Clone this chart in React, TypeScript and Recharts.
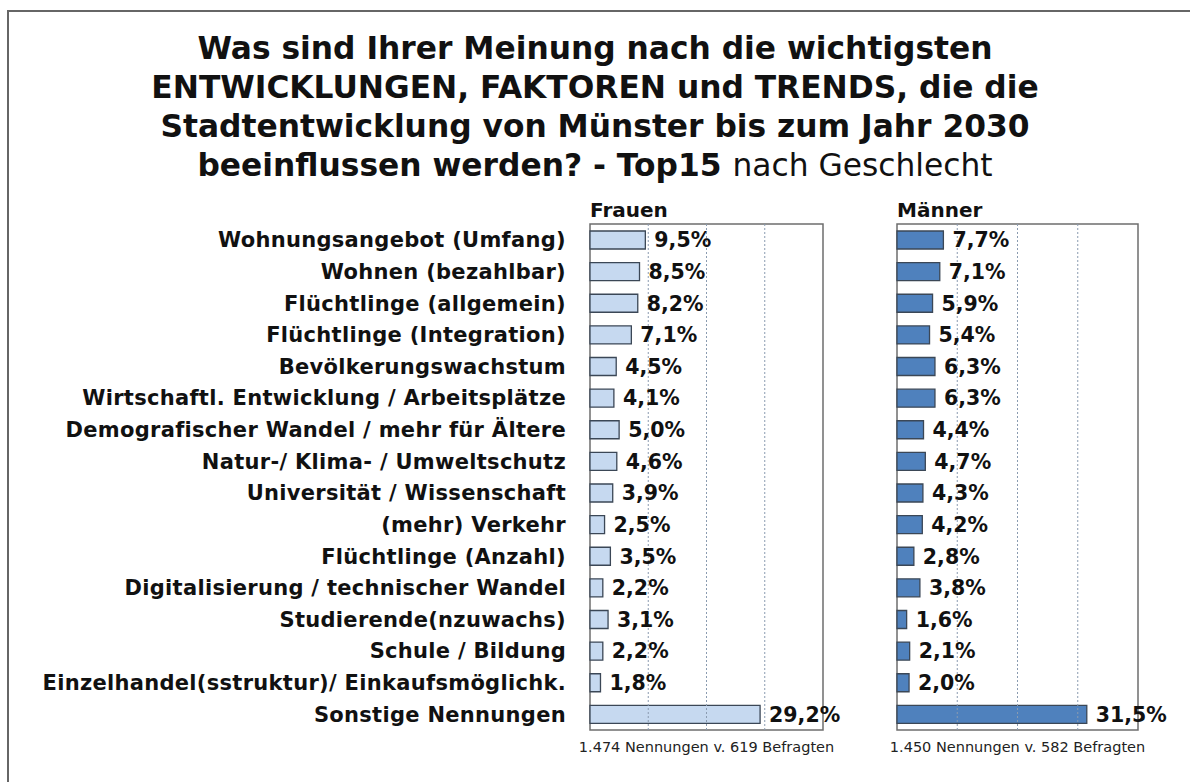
import React from "react";
import {
  BarChart,
  Bar,
  XAxis,
  YAxis,
  ReferenceArea,
  ReferenceLine,
  LabelList,
} from "recharts";

// Kategorien (Top15 + Sonstige)
const categories = [
  "Wohnungsangebot (Umfang)",
  "Wohnen (bezahlbar)",
  "Flüchtlinge (allgemein)",
  "Flüchtlinge (Integration)",
  "Bevölkerungswachstum",
  "Wirtschaftl. Entwicklung / Arbeitsplätze",
  "Demografischer Wandel / mehr für Ältere",
  "Natur-/ Klima- / Umweltschutz",
  "Universität / Wissenschaft",
  "(mehr) Verkehr",
  "Flüchtlinge (Anzahl)",
  "Digitalisierung / technischer Wandel",
  "Studierende(nzuwachs)",
  "Schule / Bildung",
  "Einzelhandel(sstruktur)/ Einkaufsmöglichk.",
  "Sonstige Nennungen",
];

// Anteile in %
const frauen = [9.5, 8.5, 8.2, 7.1, 4.5, 4.1, 5.0, 4.6, 3.9, 2.5, 3.5, 2.2, 3.1, 2.2, 1.8, 29.2];
const maenner = [7.7, 7.1, 5.9, 5.4, 6.3, 6.3, 4.4, 4.7, 4.3, 4.2, 2.8, 3.8, 1.6, 2.1, 2.0, 31.5];

const xTicks = [0, 10, 20, 30, 40];
const gridLines = [10, 20, 30];

const FONT = "'DejaVu Sans', Verdana, sans-serif";

const frauenData = categories.map((cat, i) => ({ cat, wert: frauen[i] }));
const maennerData = categories.map((cat, i) => ({ cat, wert: maenner[i] }));

const formatPct = (v: number) => v.toFixed(1).replace(".", ",") + "%";

const labelStyle = {
  fontSize: 20.5,
  fontWeight: "bold",
  fill: "#111",
  fontFamily: FONT,
};

function Panel({
  data,
  fill,
  width,
  marginLeft,
  marginRight,
  showCategories,
}: {
  data: { cat: string; wert: number }[];
  fill: string;
  width: number;
  marginLeft: number;
  marginRight: number;
  showCategories: boolean;
}) {
  return (
    <BarChart
      width={width}
      height={782}
      data={data}
      layout="vertical"
      margin={{ top: 224, bottom: 52, left: marginLeft, right: marginRight }}
      barSize={18}
    >
      <XAxis
        type="number"
        domain={[0, 40]}
        ticks={xTicks}
        tick={false}
        axisLine={false}
        tickLine={false}
        height={0}
      />
      <YAxis
        type="category"
        dataKey="cat"
        hide={!showCategories}
        width={560}
        axisLine={false}
        tickLine={false}
        tickSize={0}
        tickMargin={24}
        interval={0}
        tick={{
          fontSize: 21,
          fontWeight: "bold",
          fill: "#111",
          fontFamily: FONT,
          letterSpacing: 0.3,
        }}
      />
      {gridLines.map((x) => (
        <ReferenceLine
          key={x}
          x={x}
          stroke="#8a9bb0"
          strokeDasharray="2 2"
          strokeWidth={1}
        />
      ))}
      <ReferenceArea
        x1={0}
        x2={40}
        fill="none"
        stroke="#6d6d6d"
        strokeWidth={1.5}
        ifOverflow="visible"
      />
      <Bar
        dataKey="wert"
        fill={fill}
        stroke="#3b4756"
        strokeWidth={1.3}
        isAnimationActive={false}
      >
        <LabelList
          dataKey="wert"
          position="right"
          offset={9}
          formatter={(v: number) => formatPct(v)}
          style={labelStyle}
        />
      </Bar>
    </BarChart>
  );
}

const footStyle: React.CSSProperties = {
  position: "absolute",
  top: 739,
  fontSize: 14.5,
  color: "#222",
  whiteSpace: "nowrap",
  display: "flex",
  justifyContent: "center",
};

export default function App() {
  return (
    <div
      style={{
        position: "relative",
        width: 1190,
        height: 782,
        background: "#fff",
        overflow: "hidden",
        fontFamily: FONT,
        color: "#111",
      }}
    >
      <style>{"body{margin:0}"}</style>
      {/* Rahmen */}
      <div
        style={{
          position: "absolute",
          left: 7,
          top: 10,
          width: 1300,
          height: 900,
          border: "2px solid #666",
        }}
      />
      {/* Titel */}
      <div
        style={{
          position: "absolute",
          left: 0,
          top: 29,
          width: 1190,
          textAlign: "center",
          fontSize: 31.3,
          fontWeight: "bold",
          lineHeight: "39px",
        }}
      >
        Was sind Ihrer Meinung nach die wichtigsten
        <br />
        ENTWICKLUNGEN, FAKTOREN und TRENDS, die die
        <br />
        Stadtentwicklung von Münster bis zum Jahr 2030
        <br />
        beeinflussen werden? - Top15{" "}
        <span style={{ fontWeight: "normal" }}>nach Geschlecht</span>
      </div>

      {/* Spaltenköpfe */}
      <div style={{ position: "absolute", left: 590, top: 198, fontSize: 20, fontWeight: "bold" }}>
        Frauen
      </div>
      <div style={{ position: "absolute", left: 897, top: 198, fontSize: 20, fontWeight: "bold" }}>
        Männer
      </div>

      <div style={{ position: "absolute", left: 0, top: 0 }}>
        <Panel
          data={frauenData}
          fill="#c6d9f0"
          width={880}
          marginLeft={30}
          marginRight={57}
          showCategories
        />
      </div>
      <div style={{ position: "absolute", left: 880, top: 0 }}>
        <Panel
          data={maennerData}
          fill="#4f81bd"
          width={310}
          marginLeft={17}
          marginRight={52}
          showCategories={false}
        />
      </div>

      {/* Fußnoten */}
      <div style={{ ...footStyle, left: 590, width: 233 }}>
        1.474 Nennungen v. 619 Befragten
      </div>
      <div style={{ ...footStyle, left: 897, width: 241 }}>
        1.450 Nennungen v. 582 Befragten
      </div>
    </div>
  );
}
